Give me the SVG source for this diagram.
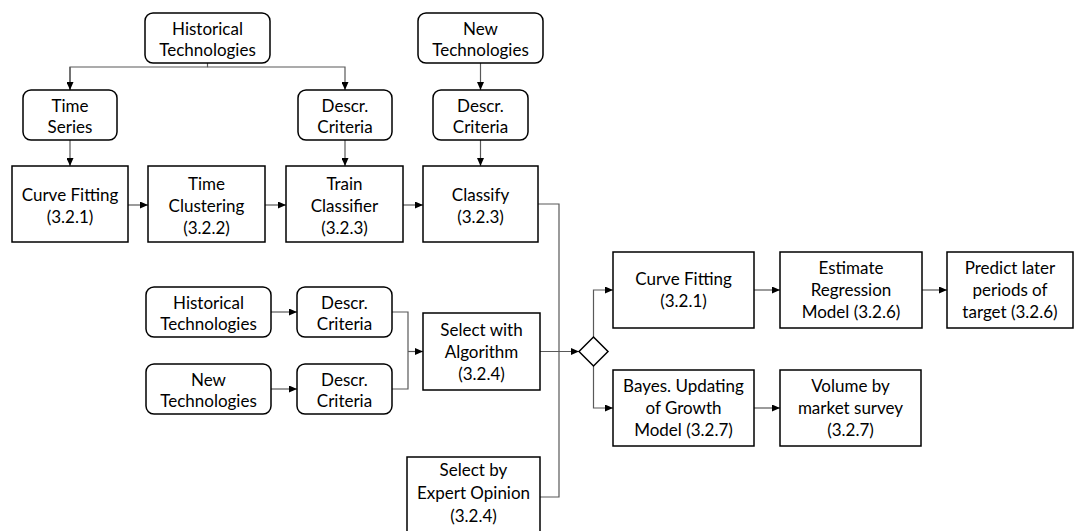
<svg xmlns="http://www.w3.org/2000/svg" width="1076" height="531" viewBox="0 0 1076 531">
<style>
.box{fill:#fff;stroke:#000;stroke-width:1.5}
.t{font-family:Lato,"Liberation Sans",sans-serif;font-size:17px;fill:#000;text-anchor:middle}
.c{fill:none;stroke:#595959;stroke-width:1.2}
.a{marker-end:url(#ah)}
</style>
<defs>
<marker id="ah" markerUnits="userSpaceOnUse" markerWidth="8" markerHeight="7" refX="8" refY="3.5" orient="auto">
<path d="M0,0 L8,3.5 L0,7 z" fill="#000"/>
</marker>
</defs>
<rect width="1076" height="531" fill="#fff"/>
<g id="connectors">
<path class="c" d="M207.5 63 V67 H70 V90"/>
<path class="c a" d="M70 67 V90"/>
<path class="c a" d="M207.5 67 H345 V90"/>
<path class="c a" d="M70 140 V166"/>
<path class="c a" d="M345 140 V166"/>
<path class="c a" d="M480.5 63 V90"/>
<path class="c a" d="M480.5 140 V166"/>
<path class="c a" d="M128 205 H148"/>
<path class="c a" d="M265 205 H286"/>
<path class="c a" d="M403 205 H423"/>
<path class="c" d="M538 204 H559 V497 H540"/>
<path class="c a" d="M540 351.5 H579"/>
<path class="c a" d="M271 312 H297"/>
<path class="c a" d="M271 389 H297"/>
<path class="c" d="M392 312 H408 V389 H392"/>
<path class="c a" d="M408 351.5 H423"/>
<path class="c a" d="M593.5 337 V290 H613"/>
<path class="c a" d="M593.5 366 V408 H613"/>
<path class="c a" d="M754 290 H780"/>
<path class="c a" d="M922 290 H947"/>
<path class="c a" d="M754 408 H780"/>
</g>
<g id="hist1"><rect class="box" x="145" y="13" width="125" height="50" rx="8"/><text class="t" x="207.5" y="35">Historical<tspan x="207.5" dy="21">Technologies</tspan></text></g>
<g id="timeseries"><rect class="box" x="23" y="90" width="94" height="50" rx="8"/><text class="t" x="70" y="112">Time<tspan x="70" dy="21">Series</tspan></text></g>
<g id="descr1"><rect class="box" x="298" y="90" width="94" height="50" rx="8"/><text class="t" x="345" y="112">Descr.<tspan x="345" dy="21">Criteria</tspan></text></g>
<g id="new1"><rect class="box" x="418" y="13" width="125" height="50" rx="8"/><text class="t" x="480.5" y="35">New<tspan x="480.5" dy="21">Technologies</tspan></text></g>
<g id="descr2"><rect class="box" x="433" y="90" width="95" height="50" rx="8"/><text class="t" x="480.5" y="112">Descr.<tspan x="480.5" dy="21">Criteria</tspan></text></g>
<g id="hist2"><rect class="box" x="146" y="287" width="125" height="50" rx="8"/><text class="t" x="208.5" y="309">Historical<tspan x="208.5" dy="21">Technologies</tspan></text></g>
<g id="descr3"><rect class="box" x="297" y="287" width="95" height="50" rx="8"/><text class="t" x="344.5" y="309">Descr.<tspan x="344.5" dy="21">Criteria</tspan></text></g>
<g id="new2"><rect class="box" x="146" y="364" width="125" height="50" rx="8"/><text class="t" x="208.5" y="386">New<tspan x="208.5" dy="21">Technologies</tspan></text></g>
<g id="descr4"><rect class="box" x="297" y="364" width="95" height="50" rx="8"/><text class="t" x="344.5" y="386">Descr.<tspan x="344.5" dy="21">Criteria</tspan></text></g>
<g id="curvefit1"><rect class="box" x="12" y="166" width="116" height="76"/><text class="t" x="70" y="201">Curve Fitting<tspan x="70" dy="22">(3.2.1)</tspan></text></g>
<g id="timeclust"><rect class="box" x="148" y="166" width="117" height="76"/><text class="t" x="206.5" y="190">Time<tspan x="206.5" dy="22">Clustering</tspan><tspan x="206.5" dy="22">(3.2.2)</tspan></text></g>
<g id="trainclf"><rect class="box" x="286" y="166" width="117" height="76"/><text class="t" x="344.5" y="190">Train<tspan x="344.5" dy="22">Classifier</tspan><tspan x="344.5" dy="22">(3.2.3)</tspan></text></g>
<g id="classify"><rect class="box" x="423" y="166" width="115" height="76"/><text class="t" x="480.5" y="201">Classify<tspan x="480.5" dy="22">(3.2.3)</tspan></text></g>
<g id="selalgo"><rect class="box" x="423" y="313" width="117" height="77"/><text class="t" x="481.5" y="336">Select with<tspan x="481.5" dy="22">Algorithm</tspan><tspan x="481.5" dy="22">(3.2.4)</tspan></text></g>
<g id="selexpert"><rect class="box" x="407" y="457" width="133" height="80"/><text class="t" x="473.5" y="476">Select by<tspan x="473.5" dy="23">Expert Opinion</tspan><tspan x="473.5" dy="23">(3.2.4)</tspan></text></g>
<g id="decision"><path class="box" d="M593.5 337 L608 351.5 L593.5 366 L579 351.5 z"/></g>
<g id="curvefit2"><rect class="box" x="613" y="252" width="141" height="76"/><text class="t" x="683.5" y="285">Curve Fitting<tspan x="683.5" dy="22">(3.2.1)</tspan></text></g>
<g id="regression"><rect class="box" x="780" y="252" width="142" height="76"/><text class="t" x="851" y="274">Estimate<tspan x="851" dy="22">Regression</tspan><tspan x="851" dy="22">Model (3.2.6)</tspan></text></g>
<g id="predict"><rect class="box" x="947" y="252" width="126" height="76"/><text class="t" x="1010" y="274">Predict later<tspan x="1010" dy="22">periods of</tspan><tspan x="1010" dy="22">target (3.2.6)</tspan></text></g>
<g id="bayes"><rect class="box" x="613" y="370" width="141" height="76"/><text class="t" x="683.5" y="392">Bayes. Updating<tspan x="683.5" dy="22">of Growth</tspan><tspan x="683.5" dy="22">Model (3.2.7)</tspan></text></g>
<g id="volume"><rect class="box" x="780" y="370" width="141" height="76"/><text class="t" x="850.5" y="392">Volume by<tspan x="850.5" dy="22">market survey</tspan><tspan x="850.5" dy="22">(3.2.7)</tspan></text></g>
</svg>
